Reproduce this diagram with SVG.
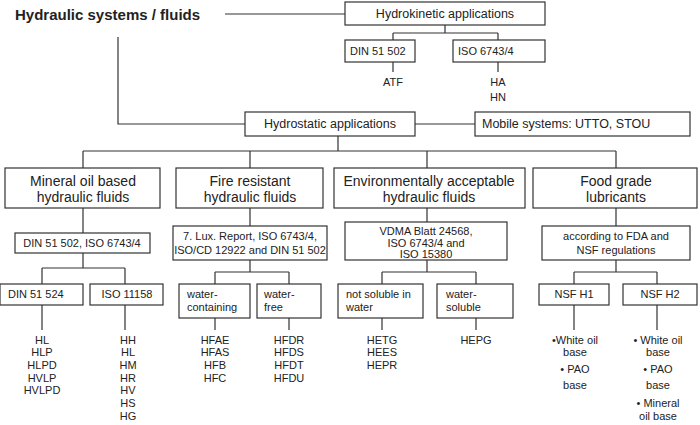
<svg xmlns="http://www.w3.org/2000/svg" width="700" height="425" viewBox="0 0 700 425">
<style>
rect{fill:#fff;stroke:#333;stroke-width:1.2}
#connectors path{fill:none;stroke:#333;stroke-width:1.2}
text{font-family:"Liberation Sans",Arial,sans-serif;fill:#222;font-size:11px}
.m{text-anchor:middle}
.h{font-size:14px}
.t{font-size:12.5px}
</style>
<rect width="700" height="425" style="fill:#fff;stroke:none"/>
<g id="connectors">
<path d="M225 14H345M445 25V33M393 33H498M393 33V40M498 33V40M393 62V72M498 62V72"/>
<path d="M118 37V124H245M415 124H475M338 136V151M83 151H616M83 151V168M250 151V168M427 151V168M616 151V168"/>
<path d="M83 208V233M83 253V268M42 268H125M42 268V284M125 268V284M42 305V330M125 305V330"/>
<path d="M250 208V226M250 260V272M215 272H289M215 272V284M289 272V284M215 318V330M289 318V330"/>
<path d="M427 208V222M427 260V272M382 272H476M382 272V284M476 272V284M382 318V330M476 318V330"/>
<path d="M616 208V226M616 260V272M574 272H657M574 272V284M657 272V284M574 305V330M657 305V330"/>
</g>
<text x="15" y="20" style="font-size:15px;font-weight:bold">Hydraulic systems / fluids</text>
<g id="hydrokinetic"><rect x="345" y="2" width="200" height="23"/><text class="m t" x="445" y="18">Hydrokinetic applications</text></g>
<g id="din51502"><rect x="345" y="40" width="70" height="22"/><text x="350" y="55">DIN 51 502</text></g>
<g id="iso67434"><rect x="453" y="40" width="92" height="22"/><text x="458" y="55">ISO 6743/4</text></g>
<text class="m" x="393" y="86">ATF</text>
<text class="m" x="498" y="86">HA</text><text class="m" x="498" y="101">HN</text>
<g id="hydrostatic"><rect x="245" y="112" width="170" height="24"/><text class="m t" x="330" y="128">Hydrostatic applications</text></g>
<g id="mobile"><rect x="475" y="112" width="215" height="24"/><text x="482" y="128" class="t">Mobile systems: UTTO, STOU</text></g>

<g id="mineral"><rect x="5" y="168" width="155" height="40"/><text class="m h" x="83" y="186">Mineral oil based</text><text class="m h" x="83" y="202">hydraulic fluids</text></g>
<g id="fire"><rect x="176" y="168" width="147" height="40"/><text class="m h" x="250" y="186">Fire resistant</text><text class="m h" x="250" y="202">hydraulic fluids</text></g>
<g id="env"><rect x="334" y="168" width="191" height="40"/><text class="m h" x="429" y="186">Environmentally acceptable</text><text class="m h" x="429" y="202">hydraulic fluids</text></g>
<g id="food"><rect x="533" y="168" width="164" height="40"/><text class="m h" x="616" y="186">Food grade</text><text class="m h" x="616" y="202">lubricants</text></g>

<g id="mineralstd"><rect x="15" y="233" width="135" height="20"/><text class="m" x="82" y="247">DIN 51 502, ISO 6743/4</text></g>
<g id="firestd"><rect x="173" y="226" width="154" height="34"/><text class="m" x="250" y="240">7. Lux. Report, ISO 6743/4,</text><text class="m" x="250" y="254">ISO/CD 12922 and DIN 51 502</text></g>
<g id="envstd"><rect x="345" y="222" width="162" height="38"/><text class="m" x="426" y="235">VDMA Blatt 24568,</text><text class="m" x="426" y="247">ISO 6743/4 and</text><text class="m" x="426" y="258">ISO 15380</text></g>
<g id="foodstd"><rect x="542" y="226" width="148" height="34"/><text class="m" x="616" y="240">according to FDA and</text><text class="m" x="616" y="254">NSF regulations</text></g>

<g id="din51524"><rect x="0" y="284" width="83" height="21"/><text x="8" y="298">DIN 51 524</text></g>
<g id="iso11158"><rect x="90" y="284" width="73" height="21"/><text class="m" x="127" y="298">ISO 11158</text></g>
<g id="watercont"><rect x="179" y="284" width="71" height="34"/><text x="187" y="298">water-</text><text x="187" y="311">containing</text></g>
<g id="waterfree"><rect x="257" y="284" width="64" height="34"/><text x="264" y="298">water-</text><text x="264" y="311">free</text></g>
<g id="notsol"><rect x="338" y="284" width="85" height="34"/><text x="346" y="298">not soluble in</text><text x="346" y="311">water</text></g>
<g id="watersol"><rect x="437" y="284" width="76" height="34"/><text x="446" y="298">water-</text><text x="446" y="311">soluble</text></g>
<g id="nsfh1"><rect x="539" y="284" width="70" height="21"/><text class="m" x="574" y="298">NSF H1</text></g>
<g id="nsfh2"><rect x="623" y="284" width="74" height="21"/><text class="m" x="660" y="298">NSF H2</text></g>

<g>
<text class="m" x="42" y="344">HL</text><text class="m" x="42" y="356">HLP</text><text class="m" x="42" y="369">HLPD</text><text class="m" x="42" y="382">HVLP</text><text class="m" x="42" y="394">HVLPD</text>
<text class="m" x="128" y="344">HH</text><text class="m" x="128" y="356">HL</text><text class="m" x="128" y="369">HM</text><text class="m" x="128" y="382">HR</text><text class="m" x="128" y="394">HV</text><text class="m" x="128" y="407">HS</text><text class="m" x="128" y="420">HG</text>
<text class="m" x="215" y="344">HFAE</text><text class="m" x="215" y="356">HFAS</text><text class="m" x="215" y="369">HFB</text><text class="m" x="215" y="382">HFC</text>
<text class="m" x="289" y="344">HFDR</text><text class="m" x="289" y="356">HFDS</text><text class="m" x="289" y="369">HFDT</text><text class="m" x="289" y="382">HFDU</text>
<text class="m" x="382" y="344">HETG</text><text class="m" x="382" y="356">HEES</text><text class="m" x="382" y="369">HEPR</text>
<text class="m" x="476" y="344">HEPG</text>
<text class="m" x="575" y="344">•White oil</text><text class="m" x="575" y="356">base</text><text class="m" x="575" y="373">• PAO</text><text class="m" x="575" y="389">base</text>
<text class="m" x="658" y="344">• White oil</text><text class="m" x="658" y="356">base</text><text class="m" x="658" y="373">• PAO</text><text class="m" x="658" y="389">base</text><text class="m" x="658" y="407">• Mineral</text><text class="m" x="658" y="420">oil base</text>
</g>
</svg>
